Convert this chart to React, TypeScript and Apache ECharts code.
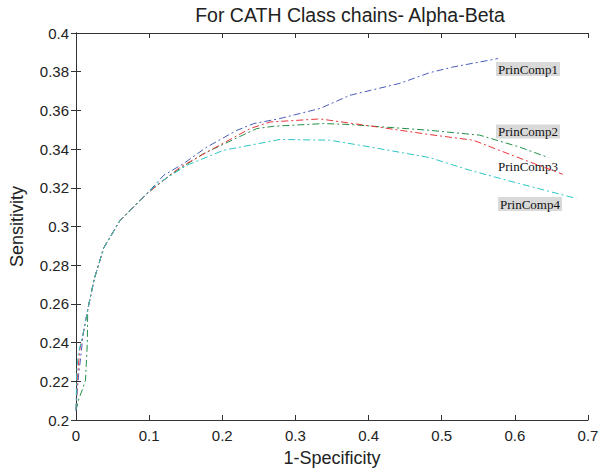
import React, { useEffect, useRef } from "react";
import * as echarts from "echarts";

const seriesNames = ["PrinComp1", "PrinComp2", "PrinComp3", "PrinComp4"];
const seriesColors = ["#4a5cb8", "#22904a", "#e8353a", "#2cc6c6"];

const pc1X = [0, 0.002, 0.004, 0.006, 0.01, 0.016, 0.025, 0.038, 0.06, 0.097, 0.12, 0.147, 0.179, 0.22, 0.243, 0.279, 0.3336, 0.3745, 0.443, 0.4836, 0.515, 0.577];
const pc1Y = [0.205, 0.217, 0.225, 0.231, 0.245, 0.257, 0.273, 0.289, 0.303, 0.317, 0.3265, 0.3325, 0.3411, 0.3497, 0.3532, 0.3558, 0.361, 0.3678, 0.374, 0.3795, 0.3824, 0.3868];

const pc2X = [0, 0.004, 0.008, 0.013, 0.0155, 0.016, 0.025, 0.038, 0.06, 0.097, 0.13, 0.1745, 0.247, 0.27, 0.338, 0.3745, 0.4836, 0.552, 0.606, 0.646];
const pc2Y = [0.205, 0.211, 0.215, 0.2206, 0.24, 0.257, 0.273, 0.289, 0.303, 0.317, 0.327, 0.3377, 0.3506, 0.3518, 0.3532, 0.3527, 0.3497, 0.3472, 0.3411, 0.3356];

const pc3X = [0, 0.002, 0.005, 0.01, 0.016, 0.025, 0.038, 0.06, 0.097, 0.143, 0.188, 0.238, 0.265, 0.3336, 0.411, 0.4836, 0.543, 0.602, 0.62, 0.6655];
const pc3Y = [0.205, 0.222, 0.236, 0.245, 0.257, 0.273, 0.289, 0.303, 0.317, 0.3308, 0.3403, 0.3506, 0.354, 0.3556, 0.3515, 0.3475, 0.3446, 0.336, 0.3334, 0.327];

const pc4X = [0, 0.001, 0.003, 0.01, 0.016, 0.025, 0.038, 0.06, 0.097, 0.111, 0.152, 0.2018, 0.238, 0.279, 0.347, 0.402, 0.4836, 0.538, 0.606, 0.684];
const pc4Y = [0.205, 0.225, 0.234, 0.245, 0.257, 0.273, 0.289, 0.303, 0.317, 0.322, 0.3317, 0.3394, 0.342, 0.345, 0.3446, 0.3411, 0.3356, 0.3291, 0.3222, 0.3145];

const xsAll = [pc1X, pc2X, pc3X, pc4X];
const ysAll = [pc1Y, pc2Y, pc3Y, pc4Y];

const titleText = "For CATH Class chains- Alpha-Beta";
const xName = "1-Specificity";
const yName = "Sensitivity";

export default function App() {
  const ref = useRef<HTMLDivElement>(null);
  useEffect(() => {
    document.body.style.margin = "0";
    const chart = echarts.init(ref.current!, null, { renderer: "svg" });
    const axisCommon = {
      axisLine: { show: true, lineStyle: { color: "#333", width: 1 } },
      axisTick: { show: true, inside: true, length: 5, lineStyle: { color: "#333" } },
      splitLine: { show: false },
    };
    const series: any[] = seriesNames.map((name, i) => ({
      name,
      type: "line",
      showSymbol: false,
      symbol: "none",
      data: xsAll[i].map((x, j) => [x, ysAll[i][j]]),
      lineStyle: { color: seriesColors[i], width: 1, type: [7, 3, 2, 3] },
      xAxisIndex: 0,
      yAxisIndex: 0,
    }));
    const labelStyle = (bg: string) => ({
      fontFamily: "Liberation Serif",
      fontSize: 13,
      fill: "#111",
      backgroundColor: bg,
      padding: [1, 2, 0, 2],
      align: "center",
      verticalAlign: "middle",
    });
    chart.setOption({
      animation: false,
      title: {
        text: titleText,
        left: 345,
        top: 0,
        textAlign: "center",
        textStyle: { fontFamily: "Liberation Sans", fontSize: 19.5, fontWeight: "normal", color: "#222" },
      },
      grid: { left: 75, top: 33, right: 16, bottom: 54 },
      xAxis: [
        {
          type: "value",
          min: 0,
          max: 0.7,
          interval: 0.1,
          position: "bottom",
          name: xName,
          nameLocation: "middle",
          nameGap: 29,
          nameTextStyle: { fontFamily: "Liberation Sans", fontSize: 18, color: "#222" },
          axisLabel: { fontFamily: "Liberation Sans", fontSize: 15, color: "#222", margin: 8 },
          ...axisCommon,
        },
        {
          type: "value",
          min: 0,
          max: 0.7,
          interval: 0.1,
          position: "top",
          axisLabel: { show: false },
          ...axisCommon,
        },
      ],
      yAxis: [
        {
          type: "value",
          min: 0.2,
          max: 0.4,
          interval: 0.02,
          position: "left",
          name: yName,
          nameLocation: "middle",
          nameGap: 50,
          nameRotate: 90,
          nameTextStyle: { fontFamily: "Liberation Sans", fontSize: 18, color: "#222" },
          axisLabel: {
            fontFamily: "Liberation Sans",
            fontSize: 15,
            color: "#222",
            margin: 7,
            formatter: (v: number) => String(Math.round(v * 100) / 100),
          },
          ...axisCommon,
        },
        {
          type: "value",
          min: 0.2,
          max: 0.4,
          interval: 0.02,
          position: "right",
          axisLabel: { show: false },
          ...axisCommon,
        },
      ],
      series,
      graphic: [
        { type: "text", x: 528, y: 69, style: { text: seriesNames[0], ...labelStyle("#d9d9d9") } },
        { type: "text", x: 528, y: 131.5, style: { text: seriesNames[1], ...labelStyle("#d9d9d9") } },
        { type: "text", x: 528, y: 166, style: { text: seriesNames[2], ...labelStyle("transparent") } },
        { type: "text", x: 530, y: 204, style: { text: seriesNames[3], ...labelStyle("#d9d9d9") } },
      ],
    });
    return () => chart.dispose();
  }, []);
  return <div ref={ref} style={{ position: "absolute", left: 0, top: 0, width: 604, height: 474 }} />;
}
